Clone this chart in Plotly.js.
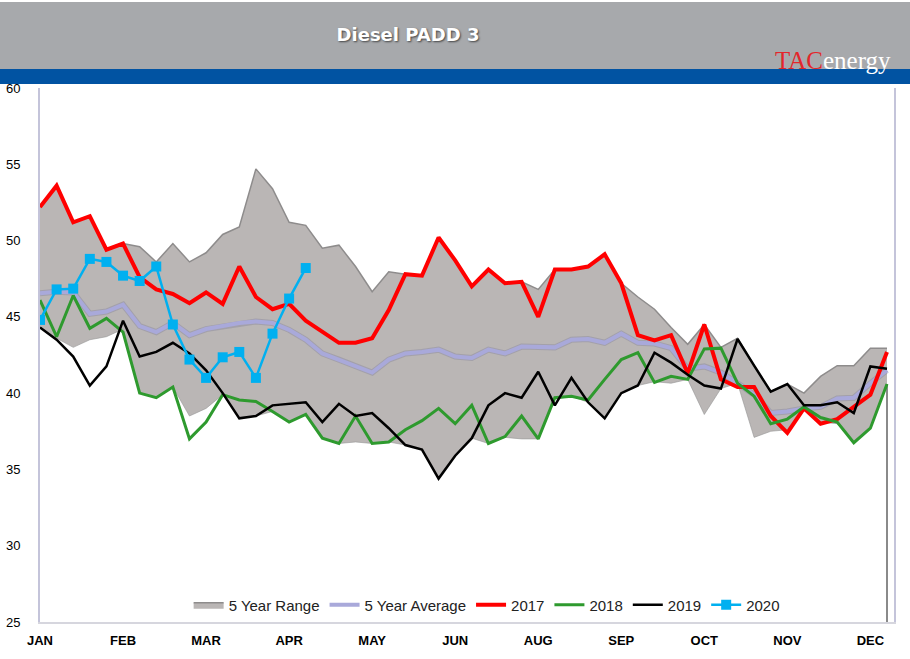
<!DOCTYPE html>
<html>
<head>
<meta charset="utf-8">
<script src="https://cdn.plot.ly/plotly-3.0.1.min.js"></script>
<style>html,body{margin:0;padding:0;background:#fff;}#chart{width:910px;height:659px;}</style>
</head>
<body>
<div id="chart"></div>
<script>
// ---- data (weekly, week 1..52) ----
const weeks = Array.from({length: 52}, (_, i) => i + 1);
const tickWeeks = [1, 6, 11, 16, 21, 26, 31, 36, 41, 46, 51];
const tickLabels = ['JAN','FEB','MAR','APR','MAY','JUN','AUG','SEP','OCT','NOV','DEC'];

const rangeUpper = [52.2,53.6,51.2,51.6,49.4,49.8,49.6,48.6,49.8,48.6,
  49.2,50.4,50.9,54.7,53.4,51.2,51.0,49.5,49.7,48.3,
  46.65,47.95,47.8,47.7,50.2,48.7,47.0,48.1,47.2,47.3,
  46.8,48.1,48.1,48.3,49.1,47.2,46.3,45.5,44.3,43.2,
  44.5,43.0,43.6,41.8,40.1,40.6,40.0,41.1,41.8,41.8,
  42.95,42.95];
const rangeLower = [44.3,43.6,43.0,43.5,43.7,44.2,40.0,39.7,40.4,38.5,
  39.0,39.9,38.4,38.5,38.8,38.1,38.6,37.05,36.7,36.8,
  36.7,36.8,36.6,36.3,34.4,35.9,37.05,36.7,37.1,37.0,
  37.0,39.6,39.8,39.4,38.35,40.0,40.5,40.75,40.65,40.9,
  38.6,40.3,40.65,37.1,37.5,37.6,38.9,38.1,38.0,36.75,
  37.7,40.6];
const avg5 = [46.55,46.65,46.6,45.2,45.35,45.8,44.4,44.0,44.6,43.8,
  44.2,44.4,44.6,44.7,44.6,44.15,43.5,42.6,42.2,41.8,
  41.35,42.2,42.6,42.7,42.85,42.4,42.3,42.85,42.6,43.05,
  43.0,43.0,43.5,43.55,43.3,43.9,43.3,43.25,42.95,41.6,
  41.75,41.35,40.65,39.9,38.7,38.8,39.0,39.1,39.65,39.7,
  40.65,41.5];
const y2017 = [52.2,53.6,51.2,51.6,49.4,49.8,47.6,46.8,46.5,45.9,
  46.6,45.85,48.3,46.3,45.5,45.85,44.75,44.0,43.3,43.3,
  43.6,45.45,47.8,47.7,50.2,48.7,47.0,48.1,47.2,47.3,
  45.0,48.1,48.1,48.3,49.1,47.2,43.8,43.45,43.8,41.3,
  44.5,40.9,40.4,40.4,38.5,37.4,39.0,38.0,38.3,39.1,
  39.9,42.7];
const y2018 = [46.1,43.7,46.4,44.25,44.9,44.0,40.0,39.7,40.4,37.0,
  38.1,39.9,39.55,39.45,38.8,38.1,38.6,37.05,36.7,38.5,
  36.7,36.8,37.6,38.2,39.0,38.0,39.2,36.7,37.15,38.5,
  37.0,39.7,39.8,39.55,40.9,42.2,42.65,40.7,41.1,40.9,
  42.9,42.95,40.65,39.8,38.0,38.3,39.1,38.4,38.1,36.75,
  37.7,40.6];
const y2019 = [44.3,43.5,42.4,40.5,41.75,44.75,42.4,42.7,43.3,42.6,
  41.5,40.0,38.35,38.5,39.2,39.3,39.4,38.1,39.3,38.5,
  38.7,37.7,36.6,36.3,34.4,35.9,37.05,39.2,40.0,39.7,
  41.4,39.2,41.0,39.4,38.35,40.0,40.5,42.65,42.0,41.2,
  40.5,40.3,43.55,41.8,40.1,40.6,39.2,39.2,39.4,38.7,
  41.75,41.6];
const y2020 = [44.8,46.8,46.85,48.8,48.6,47.7,47.35,48.3,44.5,42.2,
  41.0,42.35,42.7,41.0,43.9,46.2,48.2];

const yMin = 25, yMax = 60;

// ---- traces ----
const traces = [
  {x: weeks, y: rangeLower, type: 'scatter', mode: 'lines',
   line: {color: 'rgba(150,150,150,0.6)', width: 1}, showlegend: false, hoverinfo: 'skip'},
  {x: weeks, y: rangeUpper, type: 'scatter', mode: 'lines', name: '5 Year Range',
   fill: 'tonexty', fillcolor: '#bab6b5', line: {color: '#8e8c8c', width: 1.5}},
  {x: [weeks[weeks.length-1], weeks[weeks.length-1]], y: [yMin, rangeLower[rangeLower.length-1]],
   type: 'scatter', mode: 'lines', line: {color: '#8a8a8a', width: 2}, showlegend: false, hoverinfo: 'skip'},
  {x: weeks, y: avg5, type: 'scatter', mode: 'lines', showlegend: false, hoverinfo: 'skip',
   line: {color: 'rgba(120,120,150,0.35)', width: 6}},
  {x: weeks, y: avg5, type: 'scatter', mode: 'lines', name: '5 Year Average',
   line: {color: '#a9a9da', width: 4}},
  {x: weeks, y: y2017, type: 'scatter', mode: 'lines', name: '2017',
   line: {color: '#ff0000', width: 4}},
  {x: weeks, y: y2018, type: 'scatter', mode: 'lines', name: '2018',
   line: {color: '#2e9a2e', width: 3}},
  {x: weeks, y: y2019, type: 'scatter', mode: 'lines', name: '2019',
   line: {color: '#000000', width: 2.5}},
  {x: weeks.slice(0, y2020.length), y: y2020, type: 'scatter', mode: 'lines+markers', name: '2020',
   line: {color: '#00b0f0', width: 2.5}, marker: {symbol: 'square', size: 10, color: '#00b0f0'}}
];

// header geometry (paper coordinates relative to plot area 40..894 x 88..622)
const plotL = 40, plotR = 894, plotT = 88, plotB = 622;
const pw = plotR - plotL, ph = plotB - plotT;
const px2x = p => (p - plotL) / pw;
const py2y = p => 1 + (plotT - p) / ph;

const layout = {
  width: 910, height: 659,
  paper_bgcolor: '#ffffff', plot_bgcolor: '#ffffff',
  margin: {l: plotL, r: 910 - plotR, t: plotT, b: 659 - plotB, pad: 0},
  title: {text: 'Diesel PADD 3', x: 408/910, xanchor: 'center', y: 1 - 35/659, yanchor: 'middle',
          font: {family: 'DejaVu Sans, Liberation Sans, Arial, sans-serif', size: 18, color: '#ffffff', weight: 'bold',
                 shadow: '1px 1px 2px rgba(0,0,0,0.6)'}},
  xaxis: {range: [1, 52 + (plotR - 887) / 16.61], tickmode: 'array', tickvals: tickWeeks, ticktext: tickLabels,
          showgrid: false, zeroline: false, showline: true, linecolor: '#d6d6de', linewidth: 1.5,
          ticks: 'outside', ticklen: 6, tickcolor: 'rgba(0,0,0,0)',
          tickfont: {family: 'Liberation Sans Narrow, Arial Narrow, Arial, sans-serif', size: 13, color: '#000', weight: 'bold'}},
  yaxis: {range: [yMin, yMax], dtick: 5, showgrid: false, zeroline: false,
          showline: true, mirror: true, linecolor: '#c4c4da', linewidth: 2,
          ticks: 'outside', ticklen: 15, tickcolor: 'rgba(0,0,0,0)',
          tickfont: {family: 'Liberation Sans, Arial, sans-serif', size: 13, color: '#000'}},
  legend: {orientation: 'h', x: 0.523, xanchor: 'center', y: py2y(605), yanchor: 'middle',
           bgcolor: 'rgba(0,0,0,0)', traceorder: 'normal', itemwidth: 30, tracegroupgap: 0,
           font: {family: 'Liberation Sans Narrow, Arial Narrow, Arial, sans-serif', size: 15, color: '#222'}},
  shapes: [
    {type: 'rect', xref: 'paper', yref: 'paper', x0: px2x(0), x1: px2x(910), y0: py2y(69), y1: py2y(2),
     fillcolor: '#a7a9ac', line: {width: 0}, layer: 'below'},
    {type: 'rect', xref: 'paper', yref: 'paper', x0: px2x(0), x1: px2x(910), y0: py2y(84), y1: py2y(69),
     fillcolor: '#0153a2', line: {width: 0}, layer: 'below'}
  ],
  annotations: [
    {xref: 'paper', yref: 'paper', x: px2x(833), y: py2y(61), xanchor: 'center', yanchor: 'middle', showarrow: false,
     text: '<span style="color:#e3262b">TAC</span>energy',
     font: {family: 'Liberation Serif, Times New Roman, serif', size: 25, color: '#ffffff'}}
  ],
  showlegend: true
};

Plotly.newPlot('chart', traces, layout, {displayModeBar: false, staticPlot: true});
</script>
</body>
</html>
